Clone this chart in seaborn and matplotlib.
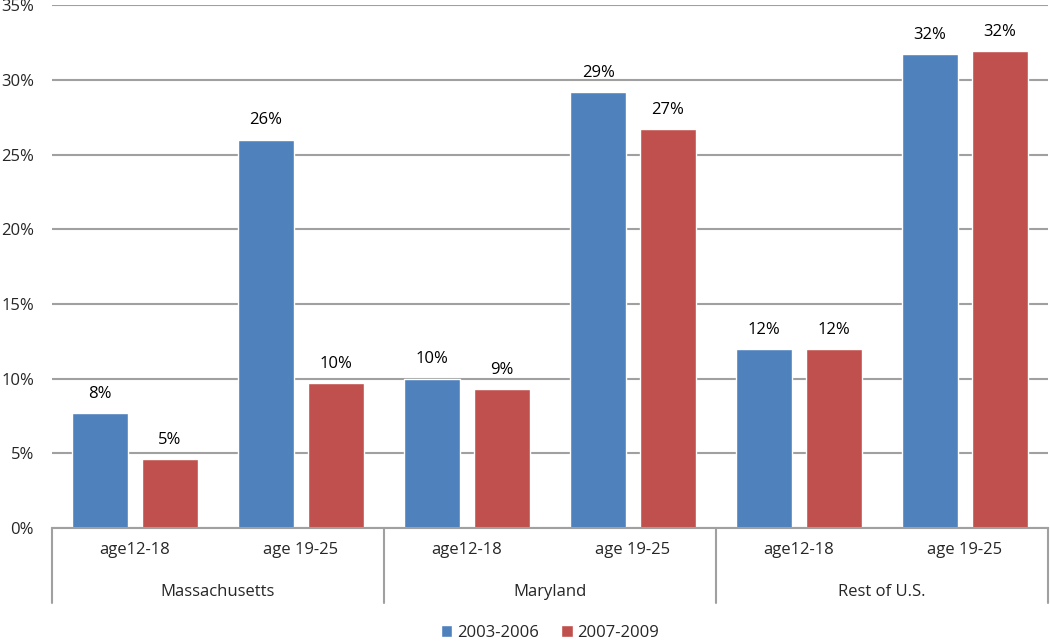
import pandas as pd
import seaborn as sns
import matplotlib.pyplot as plt
from matplotlib.ticker import PercentFormatter
import matplotlib.transforms as mtransforms

# data (percent)
states = ['Massachusetts', 'Maryland', 'Rest of U.S.']
ages = ['age12-18', 'age 19-25']
periods = ['2003-2006', '2007-2009']
vals_0306 = [7.7, 26.0, 10.0, 29.2, 12.0, 31.7]
vals_0709 = [4.6, 9.7, 9.3, 26.7, 12.0, 31.9]
labels_0306 = ['8%', '26%', '10%', '29%', '12%', '32%']
labels_0709 = ['5%', '10%', '9%', '27%', '12%', '32%']
colors = ['#4F81BD', '#C0504D']

slots = [s + '|' + a for s in states for a in ages]
df = pd.DataFrame({
    'slot': slots * 2,
    'period': [periods[0]] * len(slots) + [periods[1]] * len(slots),
    'value': vals_0306 + vals_0709,
})

sns.set_theme(style='white')
plt.rcParams['font.family'] = ['Open Sans', 'DejaVu Sans']

fig = plt.figure(figsize=(10.5, 6.41), dpi=100)
ax = fig.add_axes([0.0495, 0.1763, 0.9485, 0.8157])

sns.barplot(data=df, x='slot', y='value', hue='period', order=slots,
            hue_order=periods, palette=colors, width=0.84, gap=0.2,
            saturation=1, ax=ax, legend=True)

for cont, labs in zip(ax.containers, [labels_0306, labels_0709]):
    ax.bar_label(cont, labels=labs, padding=8, fontsize=12, color='black')

ax.set_ylim(0, 35)
ax.set_yticks(range(0, 36, 5))
ax.yaxis.set_major_formatter(PercentFormatter(decimals=0))
ax.grid(axis='y', color='#A0A0A0', linewidth=1.5)
ax.set_axisbelow(True)
ax.set_xlim(-0.5, len(slots) - 0.5)

for side in ['top', 'right', 'left']:
    ax.spines[side].set_visible(False)
ax.spines['bottom'].set_color('#A0A0A0')
ax.spines['bottom'].set_linewidth(1.5)

ax.set_xticks(range(len(slots)))
ax.set_xticklabels([s.split('|')[1] for s in slots], fontsize=12)
ax.tick_params(axis='x', length=0, pad=10)
ax.tick_params(axis='y', length=0, pad=13, labelsize=12)
ax.set_xlabel('')
ax.set_ylabel('')

# group labels and separators under the axis
trans = mtransforms.blended_transform_factory(ax.transData, ax.transAxes)
for i, st in enumerate(states):
    mid = i * len(ages) + (len(ages) - 1) / 2
    ax.text(mid, -0.122, st, transform=trans, ha='center', va='center', fontsize=12)
for b in range(len(states) + 1):
    xb = b * len(ages) - 0.5
    ax.plot([xb, xb], [0, -0.143], transform=trans, color='#A0A0A0',
            linewidth=1.5, clip_on=False)

leg = ax.legend(loc='lower center', bbox_to_anchor=(0.5, -0.245), ncol=2,
                frameon=False, fontsize=12, handlelength=0.7, handleheight=0.7,
                handletextpad=0.3, columnspacing=1.3)

fig.savefig('out.png', dpi=100)
